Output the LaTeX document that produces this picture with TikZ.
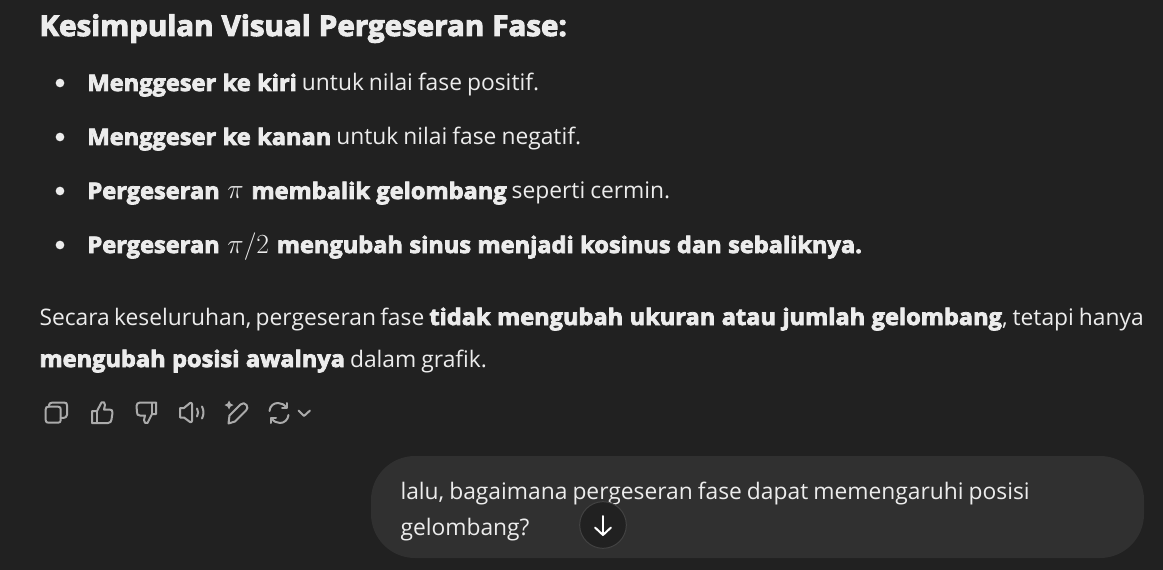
\documentclass[tikz,border=0pt]{standalone}
\usepackage{fontspec}
\setmainfont[WordSpace=0.85]{Open Sans}
\newfontfamily\tightface[WordSpace=0.72]{Open Sans}
\newfontfamily\boldface[FakeBold=3.5,FakeStretch=1.035,WordSpace=1.05]{Open Sans Bold}
\newcommand{\tb}[1]{{\boldface #1}}
\newcommand{\mth}[1]{\hspace{2pt}{\fontsize{21.6}{24}\selectfont$#1$}\hspace{2pt}}
\definecolor{pagebg}{HTML}{212121}
\definecolor{bubblebg}{HTML}{303030}
\definecolor{textfg}{HTML}{ECECEC}
\definecolor{iconfg}{HTML}{ABABAB}
\definecolor{ringfg}{HTML}{424242}
\tikzset{
  every picture/.style={line width=0.75pt},
  line/.style={anchor=base west,inner sep=0pt,text=textfg,font=\fontsize{17.1}{20}\selectfont},
  headline/.style={anchor=base west,inner sep=0pt,text=textfg,font=\fontsize{21.4}{24}\selectfont},
  bulletdot/.style={circle,fill=textfg,inner sep=0pt,minimum size=6.5pt},
  icon/.style={draw=iconfg,line width=1.5pt,line cap=round,line join=round},
}
\begin{document}
\begin{tikzpicture}[x=0.75pt,y=0.75pt,yscale=-1,xscale=1]
\useasboundingbox (0,0) rectangle (1163,570);
\fill[pagebg] (0,0) rectangle (1163,570);

% Heading
\node[headline] (head) at (39,36) {\tb{Kesimpulan Visual Pergeseran Fase:}};

% Bullets
\node[bulletdot] (dota) at (60,83) {};
\node[bulletdot] (dotb) at (60,137) {};
\node[bulletdot] (dotc) at (60,191) {};
\node[bulletdot] (dotd) at (60,245) {};
\node[line] (itema) at (87,91) {\tb{Menggeser ke kiri} untuk nilai fase positif.};
\node[line] (itemb) at (87,145) {\tb{Menggeser ke kanan} untuk nilai fase negatif.};
\node[line] (itemc) at (87,199) {\tb{Pergeseran} \mth{\pi} \tb{membalik gelombang} seperti cermin.};
\node[line] (itemd) at (87,253) {\tb{Pergeseran} \mth{\pi/2} \tb{mengubah sinus menjadi kosinus dan sebaliknya.}};

% Paragraph
\node[line] (para) at (39,325) {{\tightface Secara keseluruhan, pergeseran fase} \tb{tidak mengubah ukuran atau jumlah gelombang}, tetapi hanya};
\node[line] (parb) at (39,367) {\tb{mengubah posisi awalnya} dalam grafik.};

% Copy
\draw[icon] (48.5,406.7) -- (58,406.7) .. controls (60,406.7) and (60.7,407.5) .. (60.7,409.5) -- (60.7,420) .. controls (60.7,422) and (60,422.7) .. (58,422.7) -- (48.5,422.7) .. controls (46.5,422.7) and (45.7,422) .. (45.7,420) -- (45.7,409.5) .. controls (45.7,407.5) and (46.5,406.7) .. (48.5,406.7) -- cycle;
\draw[icon] (49,406.7) .. controls (49,403.5) and (50,402.5) .. (52.5,402.5) -- (64,402.5) .. controls (66.5,402.5) and (67,403.5) .. (67,405.5) -- (67,415) .. controls (67,417) and (65.5,418) .. (60.7,418);

% Thumb up
\draw[icon] (92,411) -- (92,423) -- (108,423) .. controls (110.5,423) and (111,421.5) .. (111.5,419.5) -- (112.5,413) .. controls (113,410.5) and (111.5,409.5) .. (109.5,409.5) -- (104,409.5) -- (105,405) .. controls (105.5,402.5) and (103,401) .. (101.5,402.5) -- (97,411) -- cycle;
\draw[icon] (97,411) -- (97,423);

% Thumb down
\draw[icon] (156,414) -- (156,402.5) -- (140,402.5) .. controls (137.5,402.5) and (137,404) .. (136.5,406) -- (137,412) .. controls (136.5,414.5) and (138,415.5) .. (140,415.5) -- (145,415.5) -- (144,420) .. controls (143.5,422.5) and (146,424) .. (147.5,423) -- (152,414) -- cycle;
\draw[icon] (152,403) -- (152,414);

% Speaker
\draw[icon] (180,408) -- (184,408) -- (190,403) .. controls (191,402.5) and (192,403) .. (192,404) -- (192,421) .. controls (192,422) and (191,422.5) .. (190,422) -- (184,417.5) -- (180,417.5) -- cycle;
\draw[icon] (197,408.5) .. controls (198.5,411) and (198.5,414) .. (197,416.5);
\draw[icon] (202,406.5) .. controls (204,410.5) and (204,414.5) .. (202,418.5);

% Pencil
\draw[icon] (229.5,415.5) -- (240.5,404.5) .. controls (242.5,402.5) and (245,403) .. (246.5,405) .. controls (248,407) and (247.5,409) .. (246,410.5) -- (235,421.5) -- (228.5,423.5) -- cycle;
\fill[iconfg] (229,400.5) -- (230.5,403.5) -- (233.5,405) -- (230.5,406.5) -- (229,409.5) -- (227.5,406.5) -- (224.5,405) -- (227.5,403.5) -- cycle;

% Refresh
\draw[icon] (269.5,411) .. controls (270,405.5) and (274,403) .. (278,403) .. controls (281.5,403) and (284,404.5) .. (286.5,407.5);
\draw[icon] (287,403) -- (287,408) -- (282,408);
\draw[icon] (288.5,415) .. controls (288,420) and (284,423) .. (280,423) .. controls (276.5,423) and (274,421.5) .. (271.5,418.5);
\draw[icon] (271,423) -- (271,418) -- (276,418);

% Chevron
\draw[icon] (298.5,410.5) -- (304,416) -- (310,410.5);

% Bubble
\fill[bubblebg] (371,456) [rounded corners=33] -- (1144,456) -- (1144,558) -- (371,558) -- cycle;
\node[line] (asktop) at (400,499) {lalu, bagaimana pergeseran fase dapat memengaruhi posisi};
\node[line] (askend) at (400,535) {gelombang?};

% Scroll button
\node[circle,fill=pagebg,draw=ringfg,line width=0.75pt,inner sep=0pt,minimum size=35pt] (scrollbtn) at (603,525) {};
\coordinate (tiptop) at (603,516);
\coordinate (tipend) at (603,535);
\draw[white,line width=1.5pt,line cap=round] (tiptop) -- (tipend);
\draw[white,line width=1.5pt,line cap=round,line join=round] (595,527.5) -- (tipend) -- (611,527.5);
\end{tikzpicture}
\end{document}
